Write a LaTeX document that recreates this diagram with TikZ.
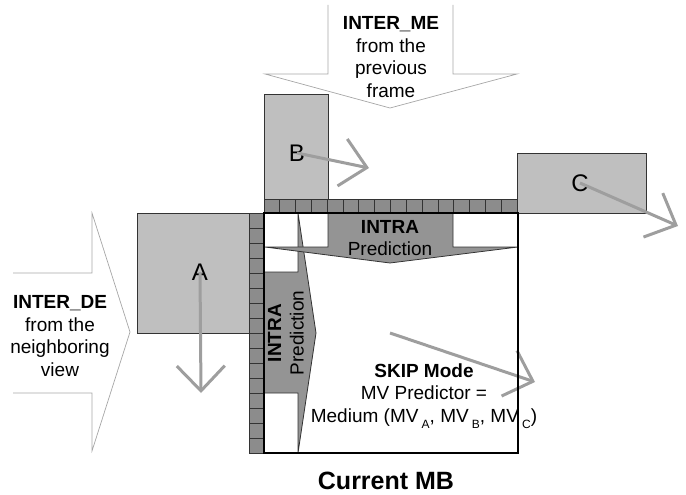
\documentclass[tikz,border=0pt]{standalone}
\usepackage{fontspec}
\setmainfont{Liberation Sans}
\usetikzlibrary{arrows.meta}
\newcommand{\mvsub}[1]{\raisebox{-6pt}{\fontsize{12}{12}\selectfont #1}}

\begin{document}
\begin{tikzpicture}[x=1pt,y=-1pt,
	blk/.style={draw=black!80, fill=black!25, line width=0.8pt},
	cell/.style={draw=black!80, fill=black!45, line width=0.8pt},
	intra/.style={draw=black!80, fill=black!42, line width=0.8pt},
	hollow/.style={draw=black!35, line width=0.7pt},
	mv/.style={draw=black!38, line width=3pt, -{Straight Barb[length=25pt,width=48pt]}},
	txt/.style={font=\fontsize{19}{22.5}\selectfont, align=center, inner sep=0pt},
	lbl/.style={font=\fontsize{24}{24}\selectfont, inner sep=0pt}]
\useasboundingbox (0,0) rectangle (686,495);

% hollow arrows: temporal and inter-view sources
\draw[hollow] (328,5) -- (328,74) -- (265,74) -- (390,108) -- (517,74) -- (453,74) -- (453,5);
\draw[hollow] (13,273) -- (92,273) -- (92,213) -- (130,332) -- (92,451) -- (92,393) -- (13,393);

% neighbouring blocks
\draw[blk] (137,213) rectangle (249,333);
\draw[blk] (264,94) rectangle (328,199);
\draw[blk] (517,153) rectangle (646,213);

% boundary pixels
\foreach \i in {0,...,15}
	\draw[cell] (264+\i*15.8125,199) rectangle ++(15.8125,14);
\foreach \i in {0,...,15}
	\draw[cell] (249,213+\i*15) rectangle ++(15,15);

% intra prediction
\draw[intra] (264,272) -- (298,272) -- (298,213) -- (316,333) -- (298,453) -- (298,393) -- (264,393) -- cycle;
\draw[intra] (328,213) -- (453,213) -- (453,247) -- (518,247) -- (390,263) -- (265,247) -- (328,247) -- cycle;

\node[txt] (me) at (391,57) {\textbf{INTER\_ME}\\from the\\previous\\frame};
\node[txt] (de) at (60,336) {\textbf{INTER\_DE}\\from the\\neighboring\\view};
\node[txt] (intraT) at (390,238) {\textbf{INTRA}\\Prediction};
\node[txt, rotate=90] (intraL) at (286,333) {\textbf{INTRA}\\Prediction};
\node[txt] (skip) at (424,396) {\textbf{SKIP Mode}\\MV Predictor =\\Medium (MV\,\mvsub{A}, MV\,\mvsub{B}, MV\,\mvsub{C})};

\node[lbl] (lblA) at (200,272) {A};
\node[lbl] (lblB) at (297,153) {B};
\node[lbl] (lblC) at (580,183) {C};

% motion vectors
\coordinate (mvA) at (201,393);
\coordinate (mvB) at (369,168);
\coordinate (mvC) at (678,226);
\coordinate (skipFrom) at (390,333);
\coordinate (skipTo) at (535,382);
\draw[mv] (lblA.center) -- (mvA);
\draw[mv] (lblB.center) -- (mvB);
\draw[mv] (lblC.center) -- (mvC);
\draw[mv] (skipFrom) -- (skipTo);

% current macroblock
\draw[line width=2pt] (264,213) rectangle (518,453);
\node[font=\fontsize{25}{25}\selectfont\bfseries] (cur) at (386,481) {Current MB};
\end{tikzpicture}
\end{document}
